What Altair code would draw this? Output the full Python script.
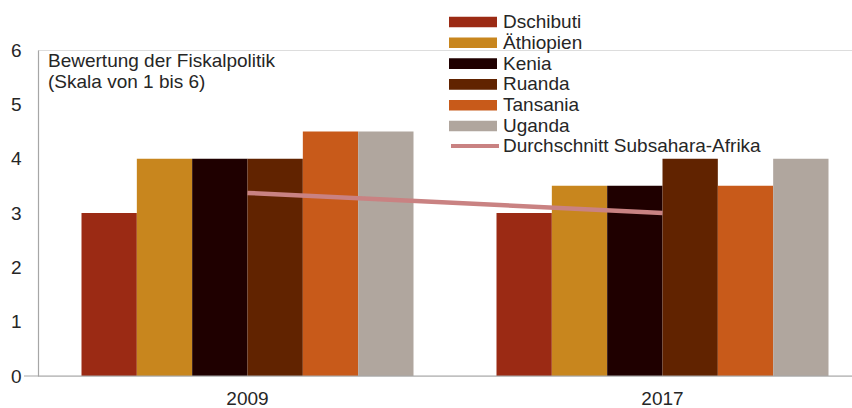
import altair as alt
import pandas as pd

years = ["2009", "2017"]
countries = ["Dschibuti", "Äthiopien", "Kenia", "Ruanda", "Tansania", "Uganda"]
values_2009 = [3.0, 4.0, 4.0, 4.0, 4.5, 4.5]
values_2017 = [3.0, 3.5, 3.5, 4.0, 3.5, 4.0]
colors = ["#9b2a14", "#c8861e", "#1f0000", "#612300", "#c85a1a", "#b0a69e"]
avg_name = "Durchschnitt Subsahara-Afrika"
avg_values = [3.37, 3.0]
avg_color = "#c98282"

FONT = "Liberation Sans"
TXT = "#262626"
FS = 19

rows = []
for y, vals in zip(years, [values_2009, values_2017]):
    for c, v in zip(countries, vals):
        rows.append({"year": y, "country": c, "value": v})
bars_df = pd.DataFrame(rows)
line_df = pd.DataFrame({"year": years, "value": avg_values, "series": [avg_name] * 2})

x_scale = alt.Scale(domain=years, range=[2, 832], paddingInner=0, paddingOuter=0)
y_scale = alt.Scale(domain=[0, 6])

bars = alt.Chart(bars_df).mark_bar().encode(
    x=alt.X("year:N", scale=x_scale, sort=years,
            axis=alt.Axis(title=None, labelAngle=0, ticks=False, labelFont=FONT,
                          labelFontSize=FS, labelColor=TXT, labelPadding=13,
                          domain=False)),
    xOffset=alt.XOffset("country:N", sort=countries,
                        scale=alt.Scale(paddingOuter=0.75, paddingInner=0)),
    y=alt.Y("value:Q", scale=y_scale,
            axis=alt.Axis(title=None, values=[0, 1, 2, 3, 4, 5, 6], format="d", grid=False,
                          ticks=False, labelFont=FONT, labelFontSize=FS, labelColor=TXT,
                          labelPadding=17, domainColor="#a6a6a6", domainWidth=1.2)),
    color=alt.Color("country:N", sort=countries,
                    scale=alt.Scale(domain=countries, range=colors),
                    legend=alt.Legend(orient="none", legendX=411, legendY=-38, title=None,
                                      symbolType="M-1,-0.22H1V0.22H-1Z", symbolSize=2304,
                                      symbolStrokeWidth=0, clipHeight=20, rowPadding=0.8,
                                      labelFont=FONT, labelFontSize=FS, labelColor=TXT,
                                      labelOffset=6, labelLimit=0)),
)

baseline_rule = alt.Chart(pd.DataFrame({"t": [0]})).mark_rule(
    color="#a6a6a6", strokeWidth=1.2
).encode(x=alt.value(-14), x2=alt.value(814), y=alt.value(326))

line = alt.Chart(line_df).mark_line(strokeWidth=4.5).encode(
    x=alt.X("year:N", scale=x_scale, sort=years),
    y=alt.Y("value:Q", scale=y_scale),
    stroke=alt.Stroke("series:N", scale=alt.Scale(domain=[avg_name], range=[avg_color]),
                      legend=alt.Legend(orient="none", legendX=411, legendY=86, title=None,
                                        symbolType="stroke", symbolSize=2304,
                                        symbolStrokeWidth=4, clipHeight=20,
                                        labelFont=FONT, labelFontSize=FS, labelColor=TXT,
                                        labelOffset=2, labelLimit=0)),
)

note = alt.Chart(pd.DataFrame({"t": [0]})).mark_text(
    align="left", baseline="alphabetic", font=FONT, fontSize=FS, color=TXT, lineHeight=21
).encode(
    x=alt.value(10), y=alt.value(17),
    text=alt.value(["Bewertung der Fiskalpolitik", "(Skala von 1 bis 6)"]),
)

chart = alt.layer(bars, baseline_rule, line, note).resolve_scale(color="independent").properties(
    width=814, height=326,
    autosize=alt.AutoSizeParams(type="none"),
    padding={"left": 38, "top": 50, "right": 0, "bottom": 32},
).configure_view(stroke=None).configure(background="white")

chart.save("out.html", embed_options={"renderer": "svg", "actions": False})
